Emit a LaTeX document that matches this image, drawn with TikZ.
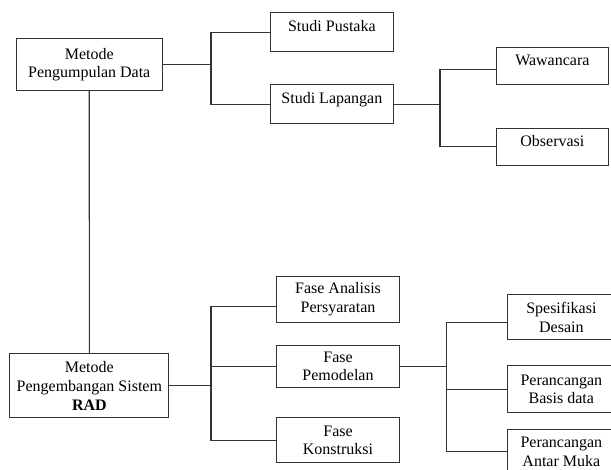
\documentclass[tikz,border=0pt]{standalone}
\usepackage{fontspec}
\setmainfont{Liberation Serif}
\begin{document}
\begin{tikzpicture}[
        x=0.75pt, y=-0.75pt,
        box/.style={draw=black!80, line width=0.8pt, anchor=north west,
            align=center, inner sep=2pt, font=\fontsize{12}{14}\selectfont},
        single/.style={text height=13.4pt, text depth=14.6pt, inner ysep=0pt},
        link/.style={draw=black!80, line width=0.8pt}
    ]
    \useasboundingbox (0,0) rectangle (611,470);
    \clip (0,0) rectangle (611,470);

    % Metode pengumpulan data
    \node[box, minimum width=109.5pt, minimum height=38.8pt] (kumpul)
        at (15.7,38.3) {Metode\\Pengumpulan Data};
    \node[box, single, minimum width=92pt, minimum height=29pt] (pustaka)
        at (270,12.3) {Studi Pustaka};
    \node[box, single, minimum width=92pt, minimum height=29.5pt] (lapangan)
        at (270,84) {Studi Lapangan};
    \node[box, single, minimum width=84.2pt, minimum height=28pt] (wawancara)
        at (495.7,46.7) {Wawancara};
    \node[box, single, minimum width=84.2pt, minimum height=28pt] (observasi)
        at (495.7,127.7) {Observasi};

    % Metode pengembangan sistem
    \node[box, minimum width=119.25pt, minimum height=48pt] (rad)
        at (9.3,353.3) {Metode\\Pengembangan Sistem\\\textbf{RAD}};
    \node[box, minimum width=92.25pt, minimum height=34.5pt] (analisis)
        at (276,275.7) {Fase Analisis\\Persyaratan};
    \node[box, minimum width=92.25pt, minimum height=31.3pt] (pemodelan)
        at (276,345) {Fase\\Pemodelan};
    \node[box, minimum width=92.25pt, minimum height=33.75pt] (konstruksi)
        at (276,417.3) {Fase\\Konstruksi};
    \node[box, minimum width=81.2pt, minimum height=33.75pt] (desain)
        at (506.7,294.3) {Spesifikasi\\Desain};
    \node[box, minimum width=81.2pt, minimum height=35.5pt] (basisdata)
        at (506.7,365) {Perancangan\\Basis data};
    \node[box, minimum width=81.2pt, minimum height=33pt] (antarmuka)
        at (506.7,429) {Perancangan\\Antar Muka};

    % junction points
    \coordinate (j1) at (211,0);
    \coordinate (j2) at (440,0);
    \coordinate (j3) at (211,0);
    \coordinate (j4) at (446.7,0);

    % connectors
    \draw[link] (kumpul.south) -- (rad.north);
    \draw[link] (kumpul.east) -- (kumpul.east -| j1);
    \draw[link] (pustaka.west) -| (j1 |- lapangan.west) -- (lapangan.west);
    \draw[link] (lapangan.east) -- (lapangan.east -| j2);
    \draw[link] ([yshift=-3pt]wawancara.west) -| (j2 |- observasi.west)
        -- (observasi.west);
    \draw[link] (rad.east) -- (rad.east -| j3);
    \draw[link] ([yshift=-5.5pt]analisis.west) -| (j3 |- konstruksi.west)
        -- (konstruksi.west);
    \draw[link] (j3 |- pemodelan.west) -- (pemodelan.west);
    \draw[link] (pemodelan.east) -- (pemodelan.east -| j4);
    \draw[link] ([yshift=-3.7pt]desain.west) -| (j4 |- antarmuka.west)
        -- (antarmuka.west);
    \draw[link] (j4 |- basisdata.west) -- (basisdata.west);
\end{tikzpicture}
\end{document}
